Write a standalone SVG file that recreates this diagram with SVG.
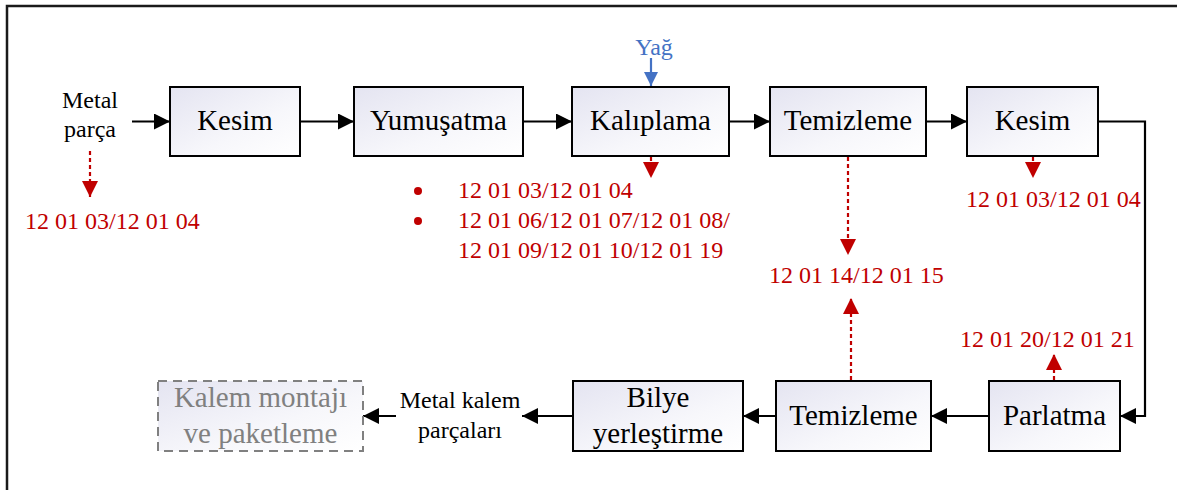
<svg xmlns="http://www.w3.org/2000/svg" width="1177" height="490" viewBox="0 0 1177 490">
<defs>
<linearGradient id="g" x1="0" y1="0" x2="1" y2="1">
<stop offset="0" stop-color="#E4E4F1"/>
<stop offset="0.6" stop-color="#F7F7FB"/>
<stop offset="1" stop-color="#FFFFFF"/>
</linearGradient>
<marker id="ab" viewBox="0 0 16 16" refX="16" refY="8" markerWidth="16" markerHeight="16" markerUnits="userSpaceOnUse" orient="auto"><path d="M0,0 L16,8 L0,16 Z" fill="#000"/></marker>
<marker id="ar" viewBox="0 0 16 16" refX="16" refY="8" markerWidth="16" markerHeight="16" markerUnits="userSpaceOnUse" orient="auto"><path d="M0,0 L16,8 L0,16 Z" fill="#C00000"/></marker>
<marker id="abl" viewBox="0 0 14 14" refX="14" refY="7" markerWidth="14" markerHeight="14" markerUnits="userSpaceOnUse" orient="auto"><path d="M0,0 L14,7 L0,14 Z" fill="#4472C4"/></marker>
<style>
.box{fill:url(#g);stroke:#000;stroke-width:2}
.dbox{fill:url(#g);stroke:#808080;stroke-width:2;stroke-dasharray:9 6}
.t{font-family:"Liberation Serif","Times New Roman",serif;font-size:29px;fill:#000;text-anchor:middle}
.tg{font-family:"Liberation Serif","Times New Roman",serif;font-size:29px;fill:#808080;text-anchor:middle}
.s{font-family:"Liberation Serif","Times New Roman",serif;font-size:24px;fill:#000;text-anchor:middle}
.r{font-family:"Liberation Serif","Times New Roman",serif;font-size:24px;fill:#C00000}
.b{font-family:"Liberation Serif","Times New Roman",serif;font-size:24px;fill:#4472C4;text-anchor:middle}
.c{fill:none;stroke:#000;stroke-width:2.2;marker-end:url(#ab)}
.cn{fill:none;stroke:#000;stroke-width:2.2}
.cr{fill:none;stroke:#C00000;stroke-width:2.2;stroke-dasharray:4 3;marker-end:url(#ar)}
.cb{fill:none;stroke:#4472C4;stroke-width:2.2;marker-end:url(#abl)}
</style>
</defs>
<rect x="0" y="0" width="1177" height="490" fill="#fff"/>
<rect id="frame" x="7" y="6" width="1200" height="520" fill="none" stroke="#1a1a1a" stroke-width="2.5"/>

<g id="connectors">
<line class="c" x1="132" y1="121.5" x2="170" y2="121.5"/>
<line class="c" x1="300" y1="121.5" x2="354" y2="121.5"/>
<line class="c" x1="523" y1="121.5" x2="572" y2="121.5"/>
<line class="c" x1="729" y1="121.5" x2="770" y2="121.5"/>
<line class="c" x1="926" y1="121.5" x2="967" y2="121.5"/>
<polyline class="c" points="1098,121.5 1145,121.5 1145,416 1120,416"/>
<line class="c" x1="989" y1="416" x2="931" y2="416"/>
<line class="c" x1="776" y1="416" x2="743" y2="416"/>
<line class="c" x1="573" y1="416" x2="522" y2="416"/>
<line class="c" x1="396" y1="416" x2="363" y2="416"/>
<line class="cb" x1="651" y1="58" x2="651" y2="86"/>
<line class="cr" x1="90" y1="151" x2="90" y2="197"/>
<line class="cr" x1="651" y1="157" x2="651" y2="178"/>
<line class="cr" x1="848" y1="157" x2="848" y2="255"/>
<line class="cr" x1="1033" y1="157" x2="1033" y2="178"/>
<line class="cr" x1="851" y1="380" x2="851" y2="298"/>
<line class="cr" x1="1054" y1="380" x2="1054" y2="354"/>
</g>

<g id="metal-parca"><text class="s" x="90" y="108">Metal</text><text class="s" x="90" y="137">parça</text></g>
<g id="kesim1"><rect class="box" x="170" y="87" width="130" height="69"/><text class="t" x="235" y="130">Kesim</text></g>
<g id="yumusatma"><rect class="box" x="354" y="87" width="169" height="69"/><text class="t" x="438.5" y="130">Yumuşatma</text></g>
<g id="kaliplama"><rect class="box" x="572" y="87" width="157" height="69"/><text class="t" x="650.5" y="130">Kalıplama</text></g>
<g id="temizleme1"><rect class="box" x="770" y="87" width="156" height="69"/><text class="t" x="848" y="130">Temizleme</text></g>
<g id="kesim2"><rect class="box" x="967" y="87" width="131" height="69"/><text class="t" x="1032.5" y="130">Kesim</text></g>
<g id="yag"><text class="b" x="654" y="55">Yağ</text></g>

<g id="code-left"><text class="r" x="25" y="229">12 01 03/12 01 04</text></g>
<g id="code-kaliplama">
<circle cx="418" cy="191" r="4" fill="#C00000"/>
<circle cx="418" cy="221" r="4" fill="#C00000"/>
<text class="r" x="458" y="198">12 01 03/12 01 04</text>
<text class="r" x="458" y="228">12 01 06/12 01 07/12 01 08/</text>
<text class="r" x="458" y="258">12 01 09/12 01 10/12 01 19</text>
</g>
<g id="code-kesim2"><text class="r" x="966" y="207">12 01 03/12 01 04</text></g>
<g id="code-temizleme"><text class="r" x="769" y="283">12 01 14/12 01 15</text></g>
<g id="code-parlatma"><text class="r" x="960" y="347">12 01 20/12 01 21</text></g>

<g id="parlatma"><rect class="box" x="989" y="381" width="131" height="70"/><text class="t" x="1054.5" y="425">Parlatma</text></g>
<g id="temizleme2"><rect class="box" x="776" y="381" width="155" height="70"/><text class="t" x="853.5" y="425">Temizleme</text></g>
<g id="bilye"><rect class="box" x="573" y="381" width="170" height="70"/><text class="t" x="658" y="407">Bilye</text><text class="t" x="658" y="443">yerleştirme</text></g>
<g id="metal-kalem"><text class="s" x="460" y="408">Metal kalem</text><text class="s" x="460" y="438">parçaları</text></g>
<g id="kalem-montaji"><rect class="dbox" x="158" y="381" width="205" height="70"/><text class="tg" x="260.5" y="407">Kalem montajı</text><text class="tg" x="260.5" y="443">ve paketleme</text></g>
</svg>
